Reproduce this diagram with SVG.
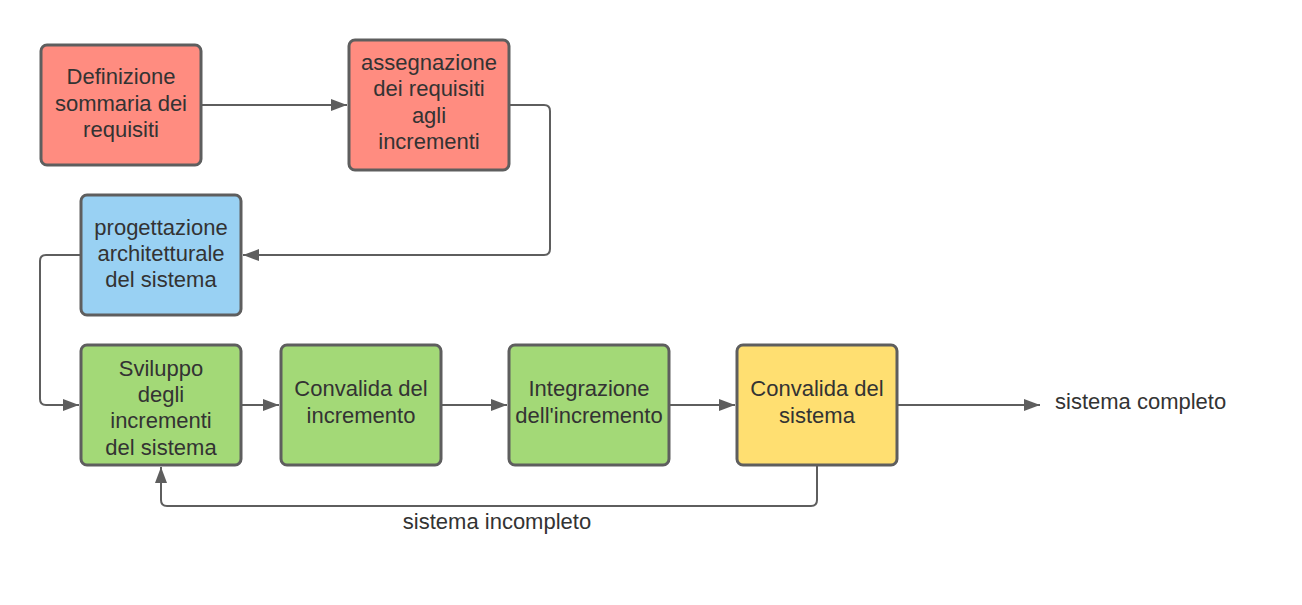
<svg xmlns="http://www.w3.org/2000/svg" width="1302" height="605" viewBox="0 0 1302 605">
<style>
.n{stroke:#5e5e5e;stroke-width:3}
.t{font-family:"Liberation Sans",Arial,sans-serif;font-size:22px;fill:#333333;text-anchor:middle}
.c{fill:none;stroke:#5e5e5e;stroke-width:2}
.red{fill:#ff8c80}.blue{fill:#99d1f3}.green{fill:#a3d977}.yellow{fill:#ffdf71}
</style>
<defs>
<marker id="ah" markerWidth="16" markerHeight="12" refX="16" refY="6" orient="auto" markerUnits="userSpaceOnUse">
<path d="M0,0 L16,6 L0,12 Z" fill="#5e5e5e"/>
</marker>
</defs>
<rect width="1302" height="605" fill="#ffffff"/>
<g id="connectors">
<path class="c" d="M202,105 H347" marker-end="url(#ah)"/>
<path class="c" d="M509,105 H544 Q550,105 550,111 V249 Q550,255 544,255 H243" marker-end="url(#ah)"/>
<path class="c" d="M80,255 H46 Q40,255 40,261 V399 Q40,405 46,405 H79" marker-end="url(#ah)"/>
<path class="c" d="M242,405 H279" marker-end="url(#ah)"/>
<path class="c" d="M441,405 H507" marker-end="url(#ah)"/>
<path class="c" d="M669,405 H735" marker-end="url(#ah)"/>
<path class="c" d="M897,405 H1040" marker-end="url(#ah)"/>
<path class="c" d="M817,465 V500 Q817,506 811,506 H167 Q161,506 161,500 V467" marker-end="url(#ah)"/>
<text class="t" x="497" y="529">sistema incompleto</text>
<text class="t" x="1055" y="409" style="text-anchor:start">sistema completo</text>
</g>
<g id="n1">
<rect class="n red" x="41" y="45" width="160" height="120" rx="6"/>
<text class="t" x="121"><tspan x="121" y="84">Definizione</tspan><tspan x="121" y="110.5">sommaria dei</tspan><tspan x="121" y="137">requisiti</tspan></text>
</g>
<g id="n2">
<rect class="n red" x="349" y="40" width="160" height="130" rx="6"/>
<text class="t" x="429"><tspan x="429" y="69.5">assegnazione</tspan><tspan x="429" y="96">dei requisiti</tspan><tspan x="429" y="122.5">agli</tspan><tspan x="429" y="149">incrementi</tspan></text>
</g>
<g id="n3">
<rect class="n blue" x="81" y="195" width="160" height="120" rx="6"/>
<text class="t" x="161"><tspan x="161" y="234.5">progettazione</tspan><tspan x="161" y="261">architetturale</tspan><tspan x="161" y="287">del sistema</tspan></text>
</g>
<g id="n4">
<rect class="n green" x="81" y="345" width="160" height="120" rx="6"/>
<text class="t" x="161"><tspan x="161" y="375.5">Sviluppo</tspan><tspan x="161" y="402">degli</tspan><tspan x="161" y="428">incrementi</tspan><tspan x="161" y="454.5">del sistema</tspan></text>
</g>
<g id="n5">
<rect class="n green" x="281" y="345" width="160" height="120" rx="6"/>
<text class="t" x="361"><tspan x="361" y="396">Convalida del</tspan><tspan x="361" y="422.5">incremento</tspan></text>
</g>
<g id="n6">
<rect class="n green" x="509" y="345" width="160" height="120" rx="6"/>
<text class="t" x="589"><tspan x="589" y="396">Integrazione</tspan><tspan x="589" y="422.5">dell'incremento</tspan></text>
</g>
<g id="n7">
<rect class="n yellow" x="737" y="345" width="160" height="120" rx="6"/>
<text class="t" x="817"><tspan x="817" y="396">Convalida del</tspan><tspan x="817" y="422.5">sistema</tspan></text>
</g>
</svg>
